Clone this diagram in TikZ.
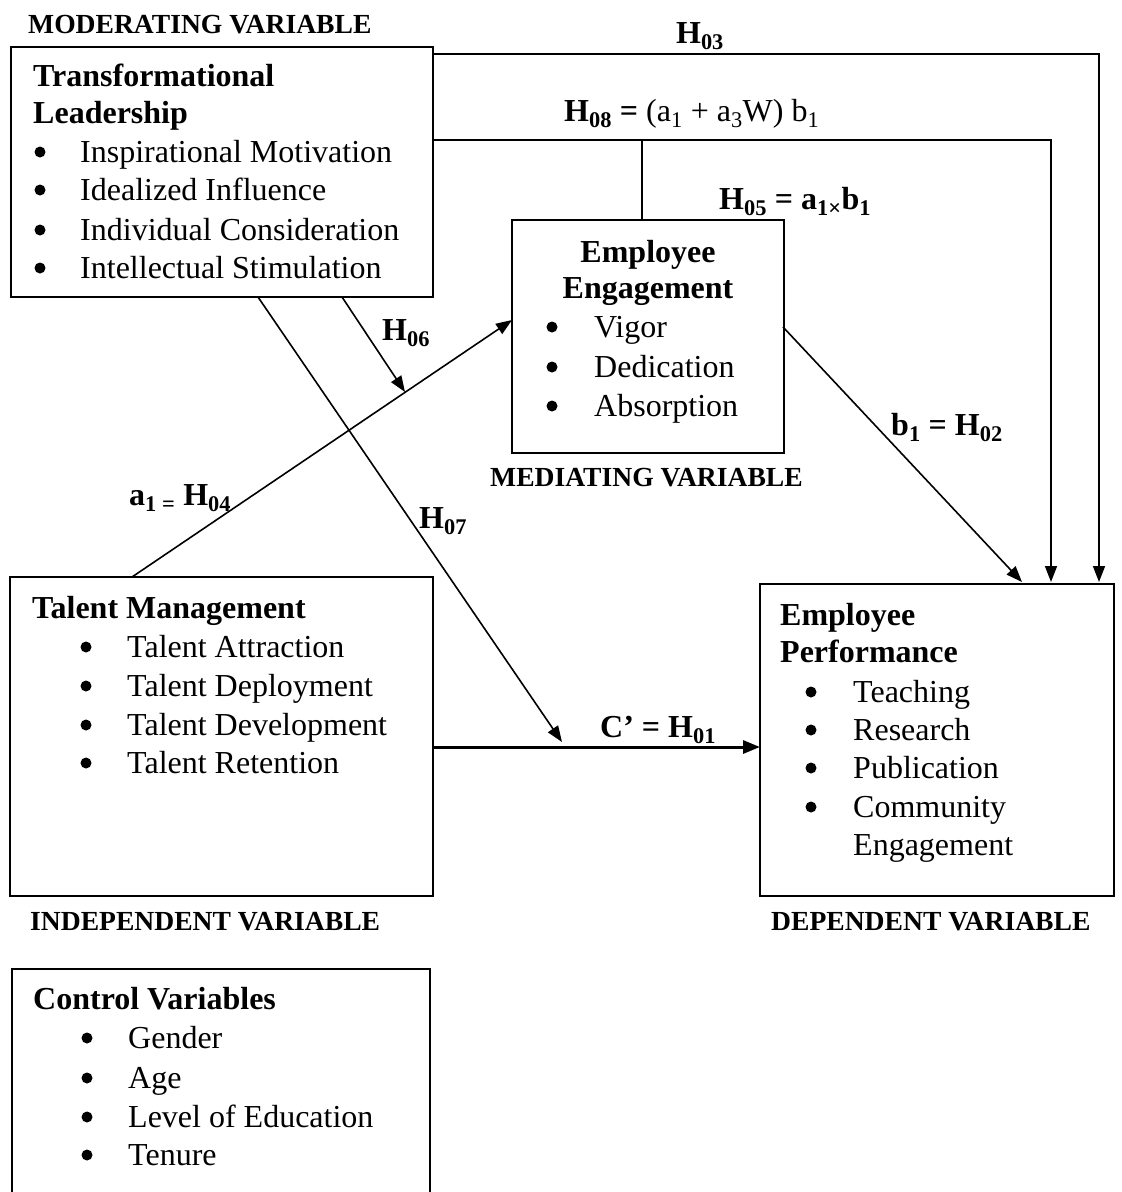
\documentclass[tikz,border=0pt]{standalone}
\usepackage{fontspec}
\setmainfont{Liberation Serif}
\usetikzlibrary{arrows.meta}

\tikzset{
  box/.style={draw, line width=1.8pt, inner sep=0pt, outer sep=0pt, anchor=north west},
  txt/.style={anchor=base west, inner sep=0pt, font=\fontsize{32}{38}\selectfont},
  hd/.style={txt, font=\fontsize{32}{38}\selectfont\bfseries},
  bul/.style={circle, fill=black, inner sep=0pt, minimum size=11pt, yshift=10pt},
  captxt/.style={anchor=base west, inner sep=0pt, font=\fontsize{27.6}{32}\selectfont\bfseries},
  lbl/.style={anchor=base west, inner sep=0pt, font=\fontsize{32}{38}\selectfont\bfseries},
  arr/.style={line width=1.6pt, -{Triangle[length=16pt,width=12pt]}},
  link/.style={line width=1.5pt}
}

\begin{document}
\begin{tikzpicture}[x=1pt,y=-1pt]
\useasboundingbox (0,0) rectangle (1122,1192);
\clip (0,0) rectangle (1122,1192);
\fill[white] (0,0) rectangle (1122,1192);

% ---- boxes ----
\node[box, minimum width=422pt, minimum height=250pt] (tl) at (11,47) {};
\node[box, minimum width=272pt, minimum height=233pt] (ee) at (512,220) {};
\node[box, minimum width=423pt, minimum height=319pt] (tm) at (10,577) {};
\node[box, minimum width=354pt, minimum height=312pt] (ep) at (760,584) {};
\node[box, minimum width=418pt, minimum height=260pt] (cv) at (12,969) {};

% ---- captions ----
\node[captxt] (capmod) at (28,33) {MODERATING VARIABLE};
\node[captxt] (capmed) at (490,486) {MEDIATING VARIABLE};
\node[captxt] (capind) at (30,930) {INDEPENDENT VARIABLE};
\node[captxt] (capdep) at (771,930) {DEPENDENT VARIABLE};

% ---- transformational leadership ----
\node[hd] (tlh1) at (33,86) {Transformational};
\node[hd] (tlh2) at (33,123) {Leadership};
\foreach \t/\y [count=\i] in {Inspirational Motivation/162, Idealized Influence/200,
    Individual Consideration/240, Intellectual Stimulation/278}{
  \node[bul] (tlb\i) at (40,\y) {};
  \node[txt] (tli\i) at (80,\y) {\t};
}

% ---- employee engagement ----
\node[hd, anchor=base] (eeh1) at (648,262) {Employee};
\node[hd, anchor=base] (eeh2) at (648,298) {Engagement};
\foreach \t/\y [count=\i] in {Vigor/337, Dedication/377, Absorption/416}{
  \node[bul] (eeb\i) at (552,\y) {};
  \node[txt] (eei\i) at (594,\y) {\t};
}

% ---- talent management ----
\node[hd] (tmh) at (32,618) {Talent Management};
\foreach \t/\y [count=\i] in {Talent Attraction/657, Talent Deployment/696,
    Talent Development/735, Talent Retention/773}{
  \node[bul] (tmb\i) at (86,\y) {};
  \node[txt] (tmi\i) at (127,\y) {\t};
}

% ---- employee performance ----
\node[hd] (eph1) at (780,625) {Employee};
\node[hd] (eph2) at (780,662) {Performance};
\foreach \t/\y [count=\i] in {Teaching/702, Research/740, Publication/778, Community/817}{
  \node[bul] (epb\i) at (811,\y) {};
  \node[txt] (epi\i) at (853,\y) {\t};
}
\node[txt] (epi5) at (853,855) {Engagement};

% ---- control variables ----
\node[hd] (cvh) at (33,1009) {Control Variables};
\foreach \t/\y [count=\i] in {Gender/1048, Age/1088, Level of Education/1127, Tenure/1165}{
  \node[bul] (cvb\i) at (87,\y) {};
  \node[txt] (cvi\i) at (128,\y) {\t};
}

% ---- connector anchor points ----
\coordinate (x3) at (1099,0);
\coordinate (x8) at (1051,0);
\coordinate (xj) at (642,0);
\coordinate (a1s) at (132,577);
\coordinate (a1e) at (512,320);
\coordinate (h6s) at (342,297);
\coordinate (h6e) at (405,392);
\coordinate (h7s) at (258,297);
\coordinate (h7e) at (562,742);
\coordinate (b1s) at (783,327);
\coordinate (b1e) at (1022,582);
\coordinate (cs) at (433,747);
\coordinate (ce) at (760,747);

% ---- connectors ----
\draw[arr] ([yshift=-7pt]tl.north east) -| ([yshift=2pt]x3 |- ep.north);
\draw[arr] ([yshift=-93pt]tl.north east) -| ([yshift=2pt]x8 |- ep.north);
\draw[link] (xj |- tl.north east) ++(0,93) -- (xj |- ee.north);
\draw[arr] (a1s) -- (a1e);
\draw[arr] (h6s) -- (h6e);
\draw[arr] (h7s) -- (h7e);
\draw[arr] (b1s) -- (b1e);
\draw[line width=3pt, -{Triangle[length=17pt,width=13pt]}] (cs) -- (ce);

% ---- hypothesis labels ----
\node[lbl, anchor=base] (lh3) at (700,43) {H\textsubscript{03}};
\node[lbl] (lh8) at (564,121) {H\textsubscript{08} =\mdseries\ (a\textsubscript{1} + a\textsubscript{3}W) b\textsubscript{1}};
\node[lbl] (lh5) at (719,209) {H\textsubscript{05} = a\textsubscript{1×}b\textsubscript{1}};
\node[lbl] (lh6) at (382,340) {H\textsubscript{06}};
\node[lbl] (lh4) at (129,505) {a\textsubscript{1 =} H\textsubscript{04}};
\node[lbl] (lh7) at (419,528) {H\textsubscript{07}};
\node[lbl] (lh2) at (891,435) {b\textsubscript{1} = H\textsubscript{02}};
\node[lbl] (lh1) at (600,737) {C’ = H\textsubscript{01}};
\end{tikzpicture}
\end{document}
